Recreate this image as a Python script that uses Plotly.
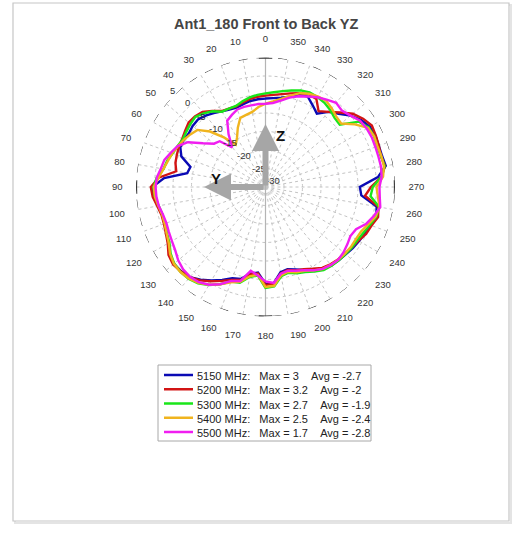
import plotly.graph_objects as go

W, H = 524, 543
TITLE = "Ant1_180 Front to Back YZ"

# ---- data -------------------------------------------------------------
ANGLES = list(range(0, 360, 5))          # degrees, 0 at top, counter-clockwise
FREQS = ["5150", "5200", "5300", "5400", "5500"]
MAXES = ["3", "3.2", "2.7", "2.5", "1.7"]
AVGS = ["-2.7", "-2", "-1.9", "-2.4", "-2.8"]
COLORS = ["#0a0ab4", "#d21414", "#19e619", "#f0b41e", "#f01ef0"]

gain_5150 = [-6.1, -6.2, -6.4, -6.8, -7.2, -6.9, -6.4, -5.6, -4.8, -4.2, -4.3, -4.7,
             -4.5, -4.6, -5.8, -9.0, -8.5, -2.5, 0.6, 0.4, -0.5, -1.1, -1.0, -0.5,
             0.3, 1.7, 2.3, 2.2, 1.8, 0.6, -0.8, -2.3, -3.8, -4.3, -6.2, -6.8,
             -3.8, -4.0, -6.6, -7.0, -6.3, -5.3, -4.0, -3.0, -2.3, -2.0, -1.7, -1.2,
             -0.8, -0.3, 0.2, 1.0, 0.5, -4.0, -4.5, 0.5, 3.0, 2.6, 2.6, 2.8,
             2.6, 1.6, 0.0, -2.0, -3.5, -5.8, -4.5, -3.0, -3.5, -4.7, -5.5, -5.9]
gain_5200 = [-5.3, -5.5, -5.8, -6.3, -6.8, -6.6, -6.3, -4.9, -3.5, -3.0, -2.9, -3.5,
             -4.0, -4.2, -4.5, -4.8, -5.5, -1.0, 1.0, 0.6, -0.3, -0.9, -0.8, -0.3,
             0.5, 2.0, 2.6, 2.3, 1.8, 0.8, -0.6, -2.0, -3.3, -4.0, -6.0, -6.5,
             -3.5, -3.8, -6.3, -6.8, -6.0, -5.5, -4.5, -3.3, -2.7, -2.3, -2.0, -1.5,
             -1.0, 0.0, 0.5, 1.5, 1.0, -3.0, -1.5, 1.5, 2.8, 2.3, 2.6, 2.9,
             3.2, 2.2, 0.8, -1.5, -3.5, -5.0, -2.5, -2.3, -3.0, -3.8, -4.5, -5.0]
gain_5300 = [-4.7, -5.0, -5.4, -6.0, -6.7, -6.6, -6.5, -5.0, -4.0, -3.2, -3.5, -3.9,
             -4.2, -3.8, -3.3, -2.5, -2.0, -0.5, 0.3, 0.0, -0.7, -1.2, -1.1, -0.6,
             0.0, 1.3, 2.2, 2.5, 2.4, 1.8, 0.6, -1.0, -2.8, -3.2, -5.3, -6.0,
             -2.7, -3.0, -5.5, -6.0, -5.2, -4.6, -3.6, -2.6, -2.2, -2.0, -1.8, -1.5,
             -1.3, -0.8, 0.0, 1.0, 1.2, -1.5, -1.0, 1.5, 2.7, 2.3, 2.1, 2.4,
             2.2, 0.8, -3.8, -3.6, -2.8, -2.2, -1.9, -1.8, -2.2, -3.0, -3.7, -4.3]
gain_5400 = [-7.5, -8.3, -9.4, -9.8, -10.1, -12.3, -14.6, -16.0, -12.5, -8.8, -6.0, -5.2,
             -4.5, -3.9, -3.2, -2.7, -2.0, -1.0, 0.2, 0.0, -0.6, -1.1, -1.0, -0.5,
             0.2, 1.5, 2.3, 2.5, 2.3, 1.6, 0.5, -1.0, -2.6, -3.5, -5.5, -6.2,
             -3.0, -3.2, -5.8, -6.3, -5.5, -5.0, -4.0, -3.0, -2.5, -2.2, -2.0, -1.8,
             -1.8, -1.5, -0.5, 0.8, 1.3, 0.5, 0.0, 1.9, 2.5, 2.4, 2.2, 2.4,
             2.0, -0.5, -3.3, -3.0, -2.2, -1.5, -1.7, -2.2, -3.0, -4.5, -5.8, -6.8]
gain_5500 = [-7.5, -7.5, -7.6, -7.6, -7.7, -8.5, -9.3, -12.6, -16.0, -12.5, -11.8, -9.4,
             -5.8, -3.8, -2.8, -1.7, -1.3, -0.5, -0.3, -0.4, -0.7, -1.3, -1.5, -1.2,
             -0.8, -0.2, 0.8, 1.5, 1.7, 1.4, 0.5, -1.0, -3.0, -3.7, -7.0, -6.0,
             -4.5, -4.0, -6.2, -6.6, -5.9, -5.2, -4.0, -3.0, -2.5, -2.2, -2.5, -3.0,
             -3.5, -3.0, -1.0, 0.3, 1.5, 1.0, 0.8, 1.5, 1.7, 1.6, 1.6, 1.7,
             1.6, 1.2, 0.0, -0.8, -0.3, -1.2, -2.0, -3.0, -3.9, -5.0, -6.3, -7.2]
SERIES = [gain_5150, gain_5200, gain_5300, gain_5400, gain_5500]

R_MIN, R_MAX = -30, 5
RADIAL_TICKS = list(range(-30, 10, 5))
ANGLE_TICKS = list(range(0, 360, 10))

# ---- layout helpers (page pixels -> paper fractions) -------------------
def px(x):
    return x / W

def py(y):
    return 1 - y / H

FONT = "Liberation Sans, Arial, Helvetica, sans-serif"
CX, CY, RAD = 265.5, 187.0, 129.5           # centre and radius of the 5 dB ring (px)

fig = go.Figure()

# outer dashed frame circle, center vertical line, cardinal marks
ring = list(range(0, 361, 2))
fig.add_trace(go.Scatterpolar(r=[R_MAX] * len(ring), theta=ring, mode="lines",
                              line=dict(color="#222222", width=1, dash="dash"),
                              hoverinfo="skip", showlegend=False, cliponaxis=False))
fig.add_trace(go.Scatterpolar(r=[R_MAX, R_MIN, R_MAX], theta=[0, 0, 180], mode="lines",
                              line=dict(color="#b4b4b4", width=1.2),
                              hoverinfo="skip", showlegend=False, cliponaxis=False))
for a in (0, 90, 180, 270):
    fig.add_trace(go.Scatterpolar(r=[R_MAX, R_MAX, R_MAX], theta=[a - 3, a, a + 3], mode="lines",
                                  line=dict(color="#333333", width=2.2),
                                  hoverinfo="skip", showlegend=False, cliponaxis=False))

for f, vals, col in zip(FREQS, SERIES, COLORS):
    fig.add_trace(go.Scatterpolar(
        r=vals + vals[:1], theta=ANGLES + [360], mode="lines",
        line=dict(color=col, width=2.4), name=f + " MHz", showlegend=False,
        cliponaxis=False))

fig.update_layout(
    width=W, height=H,
    margin=dict(l=0, r=0, t=0, b=0),
    paper_bgcolor="white",
    font=dict(family=FONT, color="#333333"),
    polar=dict(
        domain=dict(x=[px(CX - RAD), px(CX + RAD)], y=[py(CY + RAD), py(CY - RAD)]),
        bgcolor="white",
        angularaxis=dict(
            rotation=90, direction="counterclockwise",
            tickmode="array", tickvals=ANGLE_TICKS, ticktext=[str(t) for t in ANGLE_TICKS],
            tickfont=dict(size=9.5, color="#333333", family=FONT),
            ticks="outside", ticklen=11, tickcolor="rgba(0,0,0,0)",
            showline=False, gridcolor="#c4c4c4", griddash="dot", gridwidth=1,
        ),
        radialaxis=dict(
            range=[R_MIN, R_MAX], tickmode="array", tickvals=RADIAL_TICKS,
            showticklabels=False, angle=137,
            showline=False, ticks="", gridcolor="#c4c4c4", griddash="dot", gridwidth=1,
            layer="below traces",
        ),
    ),
)

annotations = []
# radial tick labels, placed along the label ray as in the original (MATLAB style)
LBL_X0, LBL_Y0 = 187.0, 103.0       # position of the 0 dB label (px)
LBL_DX, LBL_DY = -2.86, -2.6        # shift per dB (px)
for t in RADIAL_TICKS:
    annotations.append(dict(text=str(t), x=px(LBL_X0 + LBL_DX * t), y=py(LBL_Y0 + LBL_DY * t),
                            xref="paper", yref="paper", showarrow=False,
                            xanchor="center", yanchor="middle",
                            font=dict(size=9.5, color="#333333", family=FONT)))

annotations += [
    dict(text="<b>" + TITLE + "</b>", x=px(CX), y=py(24), xref="paper", yref="paper",
         showarrow=False, font=dict(size=14.5, color="#454545", family=FONT),
         xanchor="center", yanchor="middle"),
    # Z arrow and Y arrow
    dict(text="", x=px(CX), y=py(124), xref="paper", yref="paper", ax=0, ay=63,
         showarrow=True, arrowhead=2, arrowsize=0.9, arrowwidth=6, arrowcolor="#a6a6a6"),
    dict(text="", x=px(204), y=py(CY), xref="paper", yref="paper", ax=61, ay=0,
         showarrow=True, arrowhead=2, arrowsize=0.9, arrowwidth=6, arrowcolor="#a6a6a6"),
    dict(text="<b>Z</b>", x=px(280), y=py(135), xref="paper", yref="paper", showarrow=False,
         xanchor="center", yanchor="middle",
         font=dict(size=15, color="#111111", family=FONT)),
    dict(text="<b>Y</b>", x=px(216), y=py(178), xref="paper", yref="paper", showarrow=False,
         xanchor="center", yanchor="middle",
         font=dict(size=15, color="#111111", family=FONT)),
]

# legend box drawn by hand to match the row spacing
LEG_X0, LEG_Y0, LEG_X1, LEG_Y1 = 158, 365, 371, 441
ROW0, ROW_H = 375.0, 14.25
rows = []
for i, (f, mx, av) in enumerate(zip(FREQS, MAXES, AVGS)):
    rows.append(f"{f} MHz:\u00a0\u00a0\u00a0Max = {mx}\u00a0\u00a0\u00a0\u00a0Avg = {av}")
annotations.append(dict(text="<br>".join(rows), x=px(195), y=py(ROW0 - 7.3), xref="paper",
                        yref="paper", showarrow=False, align="left", xanchor="left",
                        yanchor="top", font=dict(size=11, color="#222222", family=FONT)))

shapes = [
    dict(type="rect", xref="paper", yref="paper", x0=px(15), x1=px(511), y0=py(523), y1=py(5),
         line=dict(color="#e4e4e4", width=2), layer="below"),
    dict(type="rect", xref="paper", yref="paper", x0=px(13), x1=px(509), y0=py(521), y1=py(3),
         line=dict(color="#c6c6c6", width=1.2), fillcolor="white", layer="below"),
    dict(type="rect", xref="paper", yref="paper", x0=px(LEG_X0), x1=px(LEG_X1),
         y0=py(LEG_Y1), y1=py(LEG_Y0), line=dict(color="#a8a8a8", width=1),
         fillcolor="white", layer="below"),
]
for i, col in enumerate(COLORS):
    yy = ROW0 + i * ROW_H
    shapes.append(dict(type="line", xref="paper", yref="paper", x0=px(164), x1=px(193),
                       y0=py(yy), y1=py(yy), line=dict(color=col, width=2.5)))

fig.update_layout(annotations=annotations, shapes=shapes)

fig.write_html("out.html", config={"displayModeBar": False},
               post_script="document.body.style.margin='0';")
